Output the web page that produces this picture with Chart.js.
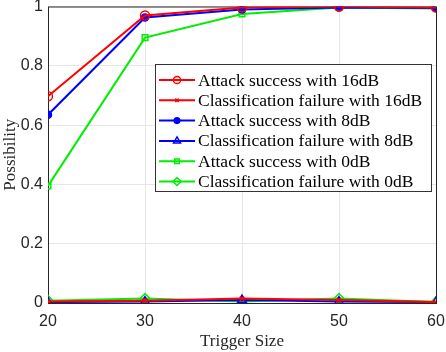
<!DOCTYPE html>
<html>
<head>
<meta charset="utf-8">
<script src="https://cdn.jsdelivr.net/npm/chart.js@4.4.0/dist/chart.umd.min.js"></script>
<style>
  html, body { margin: 0; padding: 0; background: #fff; }
  #wrap { width: 446px; height: 352px; }
</style>
</head>
<body>
<div id="wrap"><canvas id="chart"></canvas></div>
<script>
const triggerSizes = [20, 30, 40, 50, 60];
const yTicks = [0, 0.2, 0.4, 0.6, 0.8, 1];

const attack16 = [0.697, 0.970, 0.997, 1.000, 0.997];
const fail16 = [0.005, 0.008, 0.015, 0.010, 0.003];
const attack8 = [0.635, 0.963, 0.990, 0.997, 0.995];
const fail8 = [0.003, 0.005, 0.010, 0.005, 0.003];
const attack0 = [0.395, 0.895, 0.975, 0.997, 0.993];
const fail0 = [0.008, 0.015, 0.005, 0.015, 0.003];

const labels = [
    'Attack success with 16dB',
    'Classification failure with 16dB',
    'Attack success with 8dB',
    'Classification failure with 8dB',
    'Attack success with 0dB',
    'Classification failure with 0dB'
];

function toPoints(values) {
    return triggerSizes.map((x, i) => ({ x: x, y: values[i] }));
}

function makeSet(label, values, color, style, radius, filled) {
    return {
        label: label,
        data: toPoints(values),
        borderColor: color,
        backgroundColor: filled ? color : 'rgba(0,0,0,0)',
        borderWidth: 2,
        pointStyle: style,
        pointRadius: radius,
        pointBorderWidth: 1.5,
        pointBorderColor: color,
        pointBackgroundColor: filled ? color : 'rgba(0,0,0,0)',
        tension: 0,
        fill: false
    };
}

// Legend in the MATLAB style: line sample with marker, boxed
const boxLegend = {
    id: 'boxLegend',
    afterDraw(chart) {
        const ctx = chart.ctx;
        const left = 155, top = 64, width = 276, height = 127;
        ctx.save();
        ctx.fillStyle = '#fff';
        ctx.fillRect(left, top, width, height);
        ctx.strokeStyle = '#333';
        ctx.lineWidth = 1;
        ctx.strokeRect(left + 0.5, top + 0.5, width, height);
        ctx.font = '17.5px "Liberation Serif", "Times New Roman", serif';
        ctx.textBaseline = 'middle';
        chart.data.datasets.forEach((ds, i) => {
            const y = top + 16 + i * 20.3;
            ctx.strokeStyle = ds.borderColor;
            ctx.lineWidth = 2;
            ctx.beginPath();
            ctx.moveTo(left + 4, y);
            ctx.lineTo(left + 40, y);
            ctx.stroke();
            ctx.lineWidth = 1.5;
            ctx.fillStyle = ds.pointBackgroundColor;
            ctx.strokeStyle = ds.borderColor;
            Chart.helpers.drawPoint(ctx, {
                pointStyle: ds.pointStyle,
                radius: ds.pointRadius * 0.8,
                rotation: 0,
                borderWidth: 1.5
            }, left + 22, y);
            ctx.fillStyle = '#000';
            ctx.fillText(ds.label, left + 43, y + 1);
        });
        ctx.restore();
    }
};

// Box around the plot area
const frame = {
    id: 'frame',
    beforeDatasetsDraw(chart) {
        const a = chart.chartArea;
        const ctx = chart.ctx;
        ctx.save();
        ctx.strokeStyle = '#262626';
        ctx.lineWidth = 1;
        ctx.strokeRect(a.left + 0.5, a.top + 0.5, a.right - a.left, a.bottom - a.top);
        ctx.restore();
    }
};

const ctx = document.getElementById('chart').getContext('2d');
const chart = new Chart(ctx, {
    type: 'line',
    data: {
        datasets: [
            makeSet(labels[0], attack16, '#ff0000', 'circle', 4.5, false),
            makeSet(labels[1], fail16, '#ff0000', 'crossRot', 3, false),
            makeSet(labels[2], attack8, '#0000ff', 'circle', 3.5, true),
            makeSet(labels[3], fail8, '#0000ff', 'triangle', 5, false),
            makeSet(labels[4], attack0, '#00ee00', 'rect', 4, false),
            makeSet(labels[5], fail0, '#00ee00', 'rectRot', 5, false)
        ]
    },
    plugins: [frame, boxLegend],
    options: {
        responsive: true,
        maintainAspectRatio: false,
        animation: false,
        layout: {
            padding: { top: 5, right: 10, left: 0, bottom: 0 }
        },
        scales: {
            x: {
                type: 'linear',
                min: 20,
                max: 60,
                ticks: {
                    stepSize: 10,
                    color: '#262626',
                    padding: 9,
                    font: { family: '"Liberation Sans", Arial, sans-serif', size: 16 }
                },
                grid: {
                    color: '#e6e6e6',
                    tickLength: 0
                },
                border: { display: false },
                title: {
                    display: true,
                    text: 'Trigger Size',
                    color: '#262626',
                    padding: { top: 0, bottom: 0 },
                    font: { family: '"Liberation Serif", "Times New Roman", serif', size: 17 }
                },
                afterFit(scale) {
                    scale.height = 49;
                    scale.paddingLeft = 0;
                    scale.paddingRight = 0;
                }
            },
            y: {
                min: 0,
                max: 1,
                afterBuildTicks(scale) {
                    scale.ticks = yTicks.map(v => ({ value: v }));
                },
                ticks: {
                    color: '#262626',
                    padding: 5,
                    font: { family: '"Liberation Sans", Arial, sans-serif', size: 16 },
                    callback: v => String(Math.round(v * 10) / 10)
                },
                grid: {
                    color: '#e6e6e6',
                    tickLength: 0
                },
                border: { display: false },
                title: {
                    display: true,
                    text: 'Possibility',
                    color: '#262626',
                    padding: { top: 0, bottom: 0 },
                    font: { family: '"Liberation Serif", "Times New Roman", serif', size: 17 }
                },
                afterFit(scale) {
                    scale.width = 48;
                    scale.paddingTop = 0;
                    scale.paddingBottom = 0;
                }
            }
        },
        plugins: {
            legend: { display: false },
            tooltip: { enabled: false }
        }
    }
});
</script>
</body>
</html>
